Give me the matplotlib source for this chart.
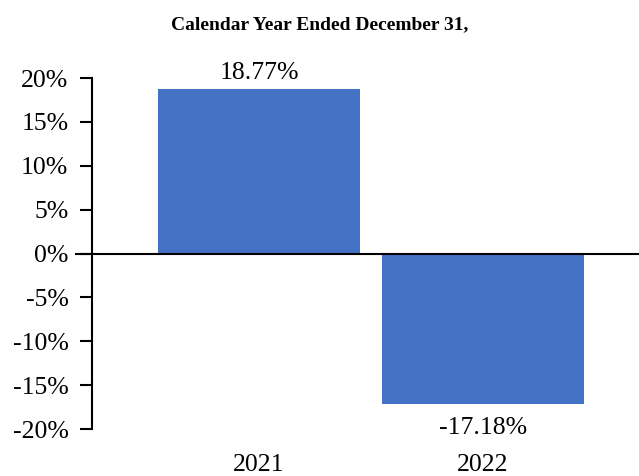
import matplotlib.pyplot as plt

years = ["2021", "2022"]
returns = [18.77, -17.18]
labels = ["18.77%", "-17.18%"]
yticks = [-20, -15, -10, -5, 0, 5, 10, 15, 20]

plt.rcParams['font.family'] = ['Liberation Serif', 'DejaVu Serif']

fig = plt.figure(figsize=(6.39, 4.76), dpi=100)
ax = fig.add_axes([0.144, 0.0987, 0.856, 0.7373])

x = list(range(len(years)))
ax.bar(x, returns, width=0.9, color='#4472C4')
ax.axhline(0, color='black', linewidth=1.5, xmin=-0.03, clip_on=False)

for xi, v, lab in zip(x, returns, labels):
    if v >= 0:
        ax.text(xi, v + 0.5, lab, ha='center', va='bottom', fontsize=18.5)
    else:
        ax.text(xi, v - 1.4, lab, ha='center', va='top', fontsize=18.5)

ax.set_xlim(-0.746, 1.696)
ax.set_ylim(-20, 20)
ax.set_yticks(yticks)
ax.set_yticklabels([f"{t}%" for t in yticks], fontsize=18.5)
ax.set_xticks(x)
ax.set_xticklabels(years, fontsize=18.5)
ax.tick_params(axis='x', length=0, pad=18)
ax.tick_params(axis='y', length=9, width=1.5, pad=8)

for s in ['top', 'right', 'bottom']:
    ax.spines[s].set_visible(False)
ax.spines['left'].set_linewidth(1.5)

fig.text(0.5, 0.948, "Calendar Year Ended December 31,", ha='center', va='center',
         fontsize=14, fontweight='bold')

fig.savefig("out.png", dpi=100)
